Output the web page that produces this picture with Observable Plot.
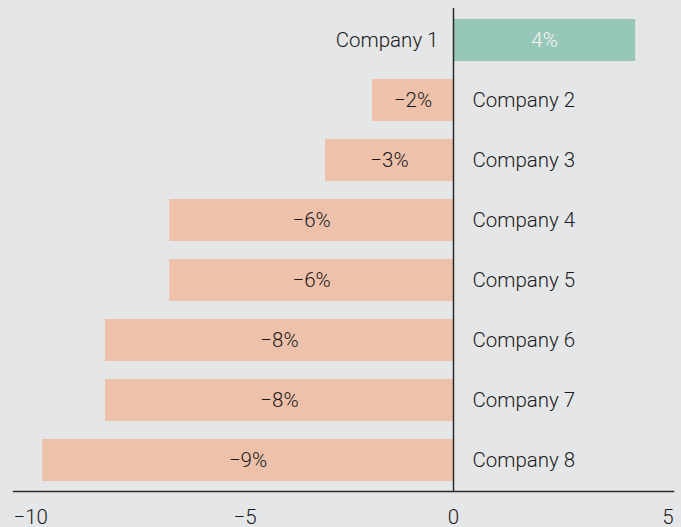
<!DOCTYPE html>
<html>
<head>
<meta charset="utf-8">
<script src="https://cdn.jsdelivr.net/npm/d3@7"></script>
<script src="https://cdn.jsdelivr.net/npm/@observablehq/plot@0.6"></script>
<style>
  html, body { margin: 0; padding: 0; background: #e5e6e8; }
  #chart { width: 681px; height: 527px; }
</style>
</head>
<body>
<div id="chart"></div>
<script>
const companies = ["Company 1", "Company 2", "Company 3", "Company 4", "Company 5", "Company 6", "Company 7", "Company 8"];
const values = [4.14, -1.84, -2.91, -6.45, -6.45, -7.91, -7.91, -9.34];
const valueLabels = ["4%", "\u22122%", "\u22123%", "\u22126%", "\u22126%", "\u22128%", "\u22128%", "\u22129%"];
const tickValues = [-10, -5, 0, 5];
const tickLabels = ["\u221210", "\u22125", "0", "5"];

const data = companies.map((c, i) => ({company: c, value: values[i], label: valueLabels[i]}));
const ticks = tickValues.map((v, i) => ({v, label: tickLabels[i]}));
const pos = data.filter(d => d.value > 0);
const neg = data.filter(d => d.value <= 0);

const textColor = "#1a1a1a";
const font = "Roboto, 'Noto Sans', sans-serif";
const fs = 20.5;
const fw = 300;

const chart = Plot.plot({
  width: 681,
  height: 527,
  marginLeft: 13,
  marginRight: 8,
  marginTop: 8,
  marginBottom: 36,
  style: {background: "#e5e6e8", fontFamily: font, fontSize: fs + "px", color: textColor},
  x: {domain: [-10, 5], axis: null},
  y: {domain: companies, paddingInner: 0.3, paddingOuter: 0.15, axis: null},
  marks: [
    Plot.barX(pos, {x1: 0, x2: "value", y: "company", fill: "#97c7b8"}),
    Plot.barX(neg, {x1: 0, x2: "value", y: "company", fill: "#eec1ab"}),
    Plot.ruleX([0], {stroke: "#2b2b2b", strokeWidth: 1.5}),
    Plot.frame({anchor: "bottom", stroke: "#2b2b2b", strokeWidth: 1.5}),
    Plot.text(pos, {x: d => d.value / 2, y: "company", text: "label", fill: "#f4f4f4", fontSize: fs, fontWeight: fw}),
    Plot.text(neg, {x: d => d.value / 2, y: "company", text: "label", fill: textColor, fontSize: fs, fontWeight: fw}),
    Plot.text(pos, {x: 0, y: "company", text: "company", textAnchor: "end", dx: -15, fill: textColor, fontSize: fs, fontWeight: fw}),
    Plot.text(neg, {x: 0, y: "company", text: "company", textAnchor: "start", dx: 19, fill: textColor, fontSize: fs, fontWeight: fw}),
    Plot.text(ticks.filter(t => t.v < 0), {x: "v", text: "label", frameAnchor: "bottom", lineAnchor: "bottom", dy: 32, textAnchor: "start", fill: textColor, fontSize: fs, fontWeight: fw}),
    Plot.text(ticks.filter(t => t.v === 0), {x: "v", text: "label", frameAnchor: "bottom", lineAnchor: "bottom", dy: 32, textAnchor: "middle", fill: textColor, fontSize: fs, fontWeight: fw}),
    Plot.text(ticks.filter(t => t.v > 0), {x: "v", text: "label", frameAnchor: "bottom", lineAnchor: "bottom", dy: 32, textAnchor: "end", fill: textColor, fontSize: fs, fontWeight: fw})
  ]
});
document.getElementById("chart").appendChild(chart);
</script>
</body>
</html>
